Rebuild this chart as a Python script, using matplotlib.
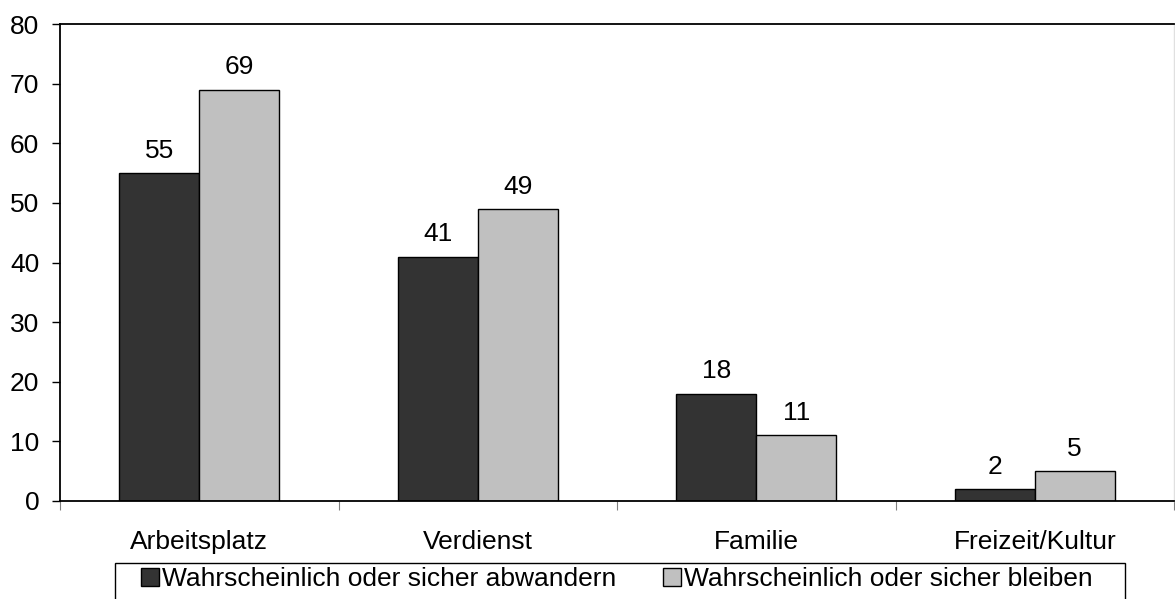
import numpy as np
import matplotlib.pyplot as plt
from matplotlib.patches import Rectangle

plt.rcParams['font.family'] = ['Liberation Sans', 'DejaVu Sans']

categories = ['Arbeitsplatz', 'Verdienst', 'Familie', 'Freizeit/Kultur']
abwandern = [55, 41, 18, 2]
bleiben = [69, 49, 11, 5]
series_names = ['Wahrscheinlich oder sicher abwandern',
                'Wahrscheinlich oder sicher bleiben']

W, H = 1175, 599
fs = 19

fig = plt.figure(figsize=(W / 100, H / 100), dpi=100)
ax = fig.add_axes([60 / W, 1 - 501 / H, 1114 / W, 477 / H])

x = np.arange(len(categories))
w = 0.287
b1 = ax.bar(x - w / 2, abwandern, w, color='#333333', edgecolor='black', lw=1,
            label=series_names[0])
b2 = ax.bar(x + w / 2, bleiben, w, color='#c0c0c0', edgecolor='black', lw=1,
            label=series_names[1])

# Wertebeschriftung ueber den Balken
for bars, vals in ((b1, abwandern), (b2, bleiben)):
    for r, v in zip(bars, vals):
        ax.annotate(str(v), (r.get_x() + r.get_width() / 2, v),
                    xytext=(0, 11), textcoords='offset points',
                    ha='center', va='baseline', fontsize=fs)

ax.set_xlim(-0.5, len(categories) - 0.5)
ax.set_ylim(0, 80)
ax.set_yticks(range(0, 81, 10))
ax.tick_params(axis='y', labelsize=fs, length=6, width=1, direction='out', pad=9)

# Kategorien mittig, Striche zwischen den Gruppen
ax.set_xticks(np.arange(-0.5, len(categories)), minor=False)
ax.set_xticklabels([])
ax.set_xticks(x, minor=True)
ax.set_xticklabels(categories, minor=True, fontsize=fs)
ax.tick_params(axis='x', which='minor', length=0, pad=21)
ax.tick_params(axis='x', which='major', length=6.5, color='#808080')

for s in ax.spines.values():
    s.set_linewidth(1.3)
ax.spines['right'].set_color('#e0e0e0')
ax.spines['right'].set_linewidth(1)

# Legende mit eigenem Rahmen (unten abgeschnitten wie im Original)
fig.patches.append(Rectangle((115 / W, -0.05), (1125 - 115) / W,
                             1 - 563 / H + 0.05, transform=fig.transFigure,
                             fill=False, edgecolor='black', lw=1))
fig.legend(handles=[b1, b2], loc='center left',
           bbox_to_anchor=(141 / W, 1 - 579 / H), ncol=2,
           fontsize=fs, frameon=False,
           handlelength=0.68, handleheight=0.68, handletextpad=0.11,
           columnspacing=1.78, borderpad=0, borderaxespad=0)

fig.savefig('out.png', dpi=100)
